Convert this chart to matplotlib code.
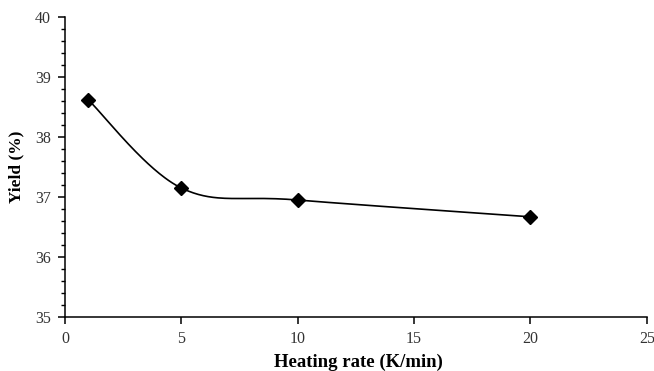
import numpy as np
import matplotlib.pyplot as plt
from matplotlib.ticker import MultipleLocator

# data
heating_rate = [1, 5, 10, 20]          # K/min
yield_pct = [38.62, 37.15, 36.95, 36.67]  # %

plt.rcParams['font.family'] = ['Liberation Serif', 'DejaVu Serif']

fig = plt.figure(figsize=(6.54, 3.71), dpi=100)
ax = fig.add_axes([0.0994, 0.1456, 0.8896, 0.8084])

ax.set_xlim(0, 25)
ax.set_ylim(35, 40)


# Excel-like smoothed line: Bezier segments with control points from neighbours,
# built in display space so the smoothing looks like the original
def smooth_curve(xs, ys, n=60):
    pts = ax.transData.transform(np.column_stack([xs, ys]))
    out = []
    for i in range(len(pts) - 1):
        p0 = pts[i - 1] if i > 0 else pts[i]
        p1 = pts[i]
        p2 = pts[i + 1]
        p3 = pts[i + 2] if i + 2 < len(pts) else pts[i + 1]
        c1 = p1 + (p2 - p0) / 6
        c2 = p2 - (p3 - p1) / 6
        t = np.linspace(0, 1, n)[:, None]
        seg = ((1 - t) ** 3) * p1 + 3 * ((1 - t) ** 2) * t * c1 + 3 * (1 - t) * t ** 2 * c2 + t ** 3 * p2
        out.append(seg)
    out = np.vstack(out)
    return ax.transData.inverted().transform(out)

curve = smooth_curve(heating_rate, yield_pct)
ax.plot(curve[:, 0], curve[:, 1], color='black', lw=1.2, zorder=2)
ax.plot(heating_rate, yield_pct, ls='none', marker='D', ms=7, color='black', zorder=3)

for s in ['top', 'right']:
    ax.spines[s].set_visible(False)
for s in ['left', 'bottom']:
    ax.spines[s].set_linewidth(1.1)

ax.xaxis.set_major_locator(MultipleLocator(5))
ax.yaxis.set_major_locator(MultipleLocator(1))
ax.yaxis.set_minor_locator(MultipleLocator(0.2))
ax.tick_params(axis='both', which='major', direction='out', length=5, width=1.1,
               labelsize=11.5, colors='black', labelcolor='#333333', pad=5)
ax.tick_params(axis='y', which='minor', direction='out', length=3, width=1.0)

ax.set_xlabel('Heating rate (K/min)', fontsize=13.5, fontweight='bold', va='center')
ax.xaxis.set_label_coords(0.505, -0.152)
ax.set_ylabel('Yield (%)', fontsize=12.5, fontweight='bold', labelpad=8)

fig.savefig('out.png', dpi=100)
